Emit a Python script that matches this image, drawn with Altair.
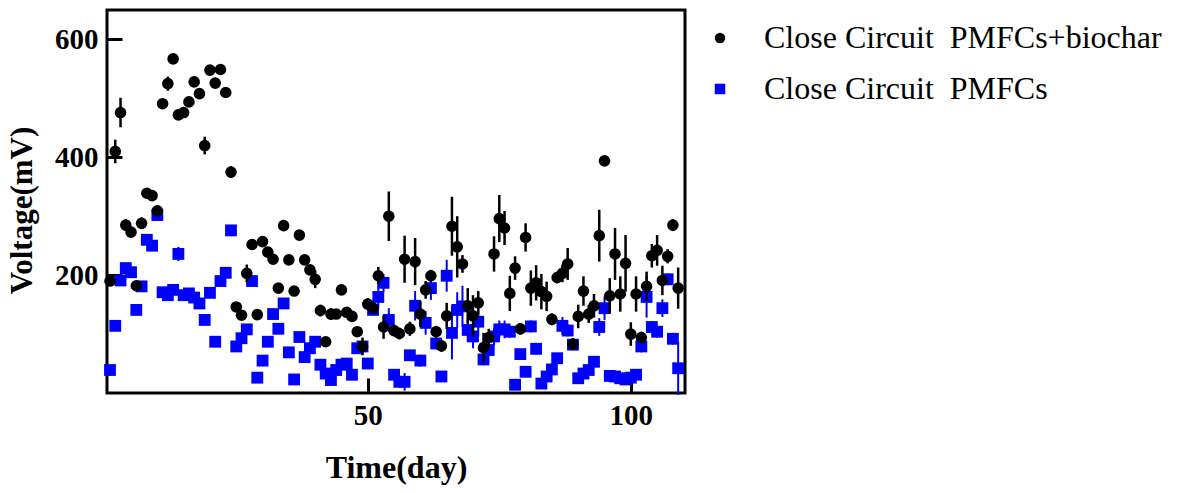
import altair as alt
import pandas as pd

days = list(range(1, 110))

black_v = [190, 410, 476, 285, 273, 182, 288, 339, 335, 309,
           491, 525, 567, 472, 476, 494, 528, 508, 420, 548,
           526, 549, 510, 375, 146, 132, 203, 252, 133, 257,
           239, 227, 178, 284, 226, 173, 268, 226, 209, 193,
           140, 87, 134, 134, 175, 137, 130, 104, 79, 151,
           144, 199, 112, 300, 106, 101, 227, 109, 223, 134,
           175, 199, 104, 80, 131, 283, 248, 219, 148, 131,
           153, 77, 94, 236, 296, 280, 169, 212, 109, 264,
           178, 187, 172, 164, 125, 196, 203, 219, 83, 130,
           173, 134, 148, 267, 394, 165, 236, 168, 220, 100,
           168, 94, 181, 233, 242, 191, 232, 285, 178]

black_e = [5, 20, 25, 10, 5, 5, 10, 5, 5, 5,
           5, 12, 8, 5, 5, 5, 5, 5, 15, 5,
           5, 5, 5, 10, 5, 5, 15, 5, 5, 5,
           5, 5, 5, 5, 5, 5, 5, 5, 5, 15,
           10, 5, 10, 5, 5, 5, 5, 5, 15, 10,
           10, 15, 20, 42, 10, 10, 40, 12, 40, 22,
           15, 10, 10, 10, 22, 50, 52, 15, 30, 35,
           20, 25, 15, 30, 40, 29, 30, 20, 10, 24,
           30, 30, 30, 25, 10, 10, 15, 27, 10, 20,
           25, 15, 20, 44, 5, 30, 44, 30, 48, 20,
           30, 10, 25, 20, 26, 25, 12, 10, 35]

blue_v = [39, 114, 191, 212, 205, 141, 181, 260, 250, 302,
          171, 166, 175, 236, 166, 169, 162, 152, 124, 170,
          87, 190, 204, 276, 79, 93, 108, 190, 26, 55,
          87, 134, 109, 152, 69, 23, 95, 61, 76, 87,
          48, 33, 22, 39, 48, 50, 31, 76, 79, 50,
          141, 163, 187, 124, 31, 19, 19, 64, 148, 55,
          119, 178, 84, 28, 199, 102, 141, 147, 107, 96,
          121, 57, 73, 96, 108, 108, 104, 14, 66, 36,
          113, 75, 16, 28, 40, 59, 114, 106, 82, 25,
          33, 39, 53, 112, 144, 29, 28, 25, 23, 26,
          31, 79, 163, 112, 104, 144, 193, 92, 42]

blue_e = [5, 8, 8, 8, 5, 5, 5, 5, 5, 8,
          5, 5, 5, 12, 5, 5, 5, 5, 5, 5,
          5, 5, 5, 5, 5, 5, 5, 5, 5, 8,
          5, 5, 5, 5, 5, 5, 5, 5, 5, 5,
          5, 5, 5, 5, 5, 5, 5, 5, 5, 5,
          5, 20, 15, 20, 5, 5, 15, 5, 25, 10,
          20, 20, 10, 5, 27, 45, 30, 35, 20, 20,
          25, 10, 10, 15, 15, 15, 10, 5, 5, 5,
          10, 10, 5, 5, 5, 5, 15, 10, 5, 5,
          5, 5, 5, 15, 20, 5, 5, 5, 5, 5,
          5, 10, 35, 10, 10, 15, 10, 10, 45]

label_black = "Close Circuit\u00a0 PMFCs+biochar"
label_blue = "Close Circuit\u00a0 PMFCs"

df = pd.concat([
    pd.DataFrame({"day": days, "v": blue_v, "e": blue_e, "series": label_blue}),
    pd.DataFrame({"day": days, "v": black_v, "e": black_e, "series": label_black}),
], ignore_index=True)

FONT = "Liberation Serif"
xscale = alt.Scale(domain=[0.43, 110.3], nice=False, zero=False)
yscale = alt.Scale(domain=[0, 650], nice=False, zero=False)

xaxis = alt.Axis(values=[50, 100], title="Time(day)", domain=False, grid=False,
                 offset=-15, tickSize=15, tickWidth=3, tickColor="black",
                 labelPadding=8, labelFont=FONT, labelFontSize=29, labelFontWeight="bold",
                 labelColor="black", titleFont=FONT, titleFontSize=32, titleFontWeight="bold",
                 titleColor="black", titlePadding=22)
yaxis = alt.Axis(values=[200, 400, 600], title="Voltage(mV)", domain=False, grid=False,
                 offset=-15, tickSize=15, tickWidth=3, tickColor="black",
                 labelPadding=9, labelFont=FONT, labelFontSize=29, labelFontWeight="bold",
                 labelColor="black", titleFont=FONT, titleFontSize=31, titleFontWeight="bold",
                 titleColor="black", titlePadding=16, titleY=200)

legend = alt.Legend(title=None, orient="none", legendX=597, legendY=12,
                    labelFont=FONT, labelFontSize=32, labelColor="black", labelLimit=0,
                    symbolSize=110, labelOffset=28, rowPadding=19,
                    symbolStrokeWidth=0, padding=0)

color = alt.Color("series:N", scale=alt.Scale(domain=[label_black, label_blue],
                                               range=["black", "#0000ff"]),
                  legend=legend)
shape = alt.Shape("series:N", scale=alt.Scale(domain=[label_black, label_blue],
                                               range=["circle", "square"]),
                  legend=legend)

base = alt.Chart(df)


def rules(label, col, sw):
    return base.transform_filter(alt.datum.series == label).transform_calculate(
        lo="datum.v - datum.e", hi="datum.v + datum.e"
    ).mark_rule(color=col, strokeWidth=sw).encode(
        x=alt.X("day:Q", scale=xscale, axis=xaxis),
        y=alt.Y("lo:Q", scale=yscale, axis=yaxis),
        y2="hi:Q",
    )


def points(label, size):
    return base.transform_filter(alt.datum.series == label).mark_point(
        filled=True, opacity=1, size=size, strokeWidth=0
    ).encode(
        x=alt.X("day:Q", scale=xscale, axis=xaxis),
        y=alt.Y("v:Q", scale=yscale, axis=yaxis),
        color=color,
        shape=shape,
    )


chart = alt.layer(
    rules(label_blue, "#0000ff", 2),
    points(label_blue, 140),
    rules(label_black, "black", 2.5),
    points(label_black, 135),
).properties(
    width=578, height=383,
    padding={"left": 107, "top": 10, "right": 503, "bottom": 100},
    autosize=alt.AutoSizeParams(type="none"),
    background="white",
).configure_view(stroke="black", strokeWidth=3).configure_legend(labelFont=FONT)

chart.save("out.html", embed_options={"renderer": "svg", "actions": False})
